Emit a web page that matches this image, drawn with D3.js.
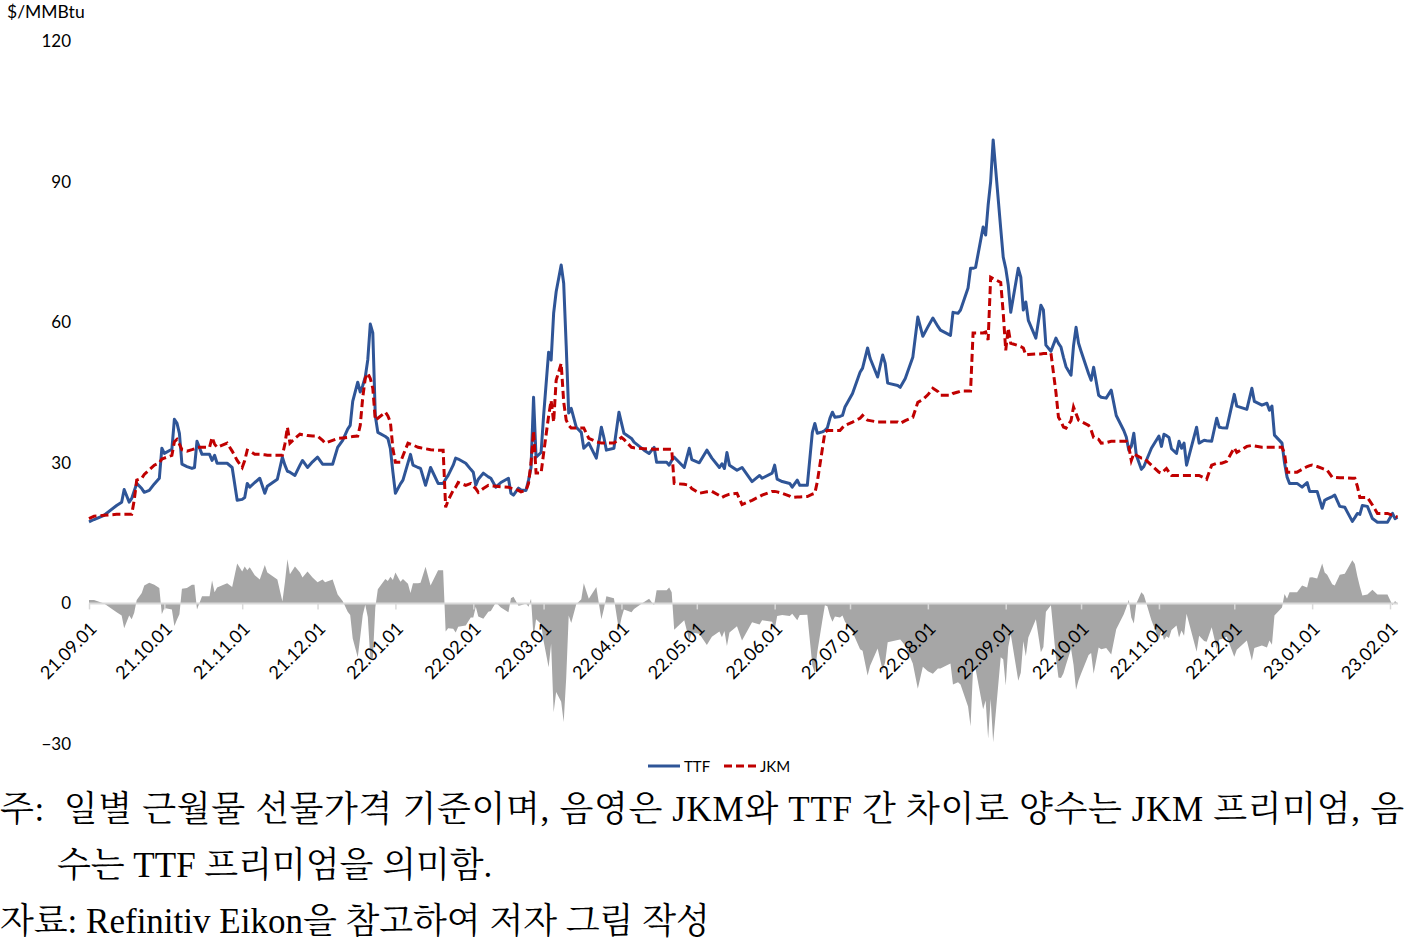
<!DOCTYPE html>
<html><head><meta charset="utf-8">
<script src="https://cdn.jsdelivr.net/npm/d3@7"></script>
<style>
html,body{margin:0;padding:0;background:#fff;}
svg{display:block;}
</style></head>
<body>
<svg id="chart" width="1407" height="940"></svg>
<script>
// ---------- DATA ----------
const dates = [
"2021-09-01","2021-09-03","2021-09-07","2021-09-12","2021-09-14","2021-09-15","2021-09-17","2021-09-18","2021-09-19","2021-09-20",
"2021-09-22","2021-09-23","2021-09-25","2021-09-27","2021-09-29","2021-09-30","2021-10-01","2021-10-04","2021-10-05","2021-10-06",
"2021-10-07","2021-10-08","2021-10-10","2021-10-12","2021-10-13","2021-10-14","2021-10-16","2021-10-19","2021-10-20","2021-10-21",
"2021-10-22","2021-10-26","2021-10-28","2021-10-30","2021-11-01","2021-11-02","2021-11-03","2021-11-04","2021-11-06","2021-11-08",
"2021-11-10","2021-11-11","2021-11-15","2021-11-17","2021-11-18","2021-11-19","2021-11-20","2021-11-22","2021-11-24","2021-11-25",
"2021-11-27","2021-11-29","2021-12-01","2021-12-03","2021-12-04","2021-12-07","2021-12-09","2021-12-11","2021-12-13","2021-12-14",
"2021-12-15","2021-12-17","2021-12-18","2021-12-19","2021-12-20","2021-12-21","2021-12-22","2021-12-23","2021-12-24","2021-12-25",
"2021-12-28","2021-12-29","2021-12-30","2021-12-31","2022-01-01","2022-01-03","2022-01-04","2022-01-06","2022-01-07","2022-01-08",
"2022-01-10","2022-01-11","2022-01-13","2022-01-15","2022-01-18","2022-01-20","2022-01-21","2022-01-22","2022-01-24","2022-01-25",
"2022-01-26","2022-01-29","2022-01-31","2022-02-01","2022-02-02","2022-02-03","2022-02-05","2022-02-07","2022-02-08","2022-02-10",
"2022-02-12","2022-02-15","2022-02-16","2022-02-17","2022-02-19","2022-02-20","2022-02-22","2022-02-23","2022-02-24","2022-02-25",
"2022-02-26","2022-02-28","2022-03-01","2022-03-03","2022-03-04","2022-03-05","2022-03-06","2022-03-08","2022-03-09","2022-03-10",
"2022-03-11","2022-03-12","2022-03-14","2022-03-16","2022-03-17","2022-03-19","2022-03-22","2022-03-24","2022-03-25","2022-03-26",
"2022-03-29","2022-03-31","2022-04-01","2022-04-02","2022-04-05","2022-04-06","2022-04-10","2022-04-12","2022-04-14","2022-04-15",
"2022-04-19","2022-04-20","2022-04-21","2022-04-22","2022-04-26","2022-04-28","2022-04-29","2022-05-02","2022-05-05","2022-05-07",
"2022-05-10","2022-05-11","2022-05-12","2022-05-13","2022-05-14","2022-05-17","2022-05-19","2022-05-23","2022-05-26","2022-05-27",
"2022-05-31","2022-06-01","2022-06-02","2022-06-04","2022-06-07","2022-06-08","2022-06-10","2022-06-11","2022-06-14","2022-06-16",
"2022-06-17","2022-06-18","2022-06-20","2022-06-21","2022-06-22","2022-06-23","2022-06-24","2022-06-25","2022-06-27","2022-06-28",
"2022-06-29","2022-07-02","2022-07-05","2022-07-06","2022-07-08","2022-07-09","2022-07-12","2022-07-14","2022-07-15","2022-07-16",
"2022-07-20","2022-07-21","2022-07-23","2022-07-26","2022-07-28","2022-07-30","2022-08-01","2022-08-03","2022-08-05","2022-08-06",
"2022-08-10","2022-08-11","2022-08-13","2022-08-14","2022-08-17","2022-08-18","2022-08-19","2022-08-20","2022-08-23","2022-08-24",
"2022-08-25","2022-08-26","2022-08-27","2022-08-30","2022-08-31","2022-09-01","2022-09-02","2022-09-03","2022-09-06","2022-09-07",
"2022-09-08","2022-09-09","2022-09-10","2022-09-13","2022-09-15","2022-09-16","2022-09-17","2022-09-19","2022-09-21","2022-09-22",
"2022-09-23","2022-09-24","2022-09-25","2022-09-27","2022-09-28","2022-09-29","2022-09-30","2022-10-01","2022-10-04","2022-10-05",
"2022-10-06","2022-10-08","2022-10-09","2022-10-11","2022-10-13","2022-10-15","2022-10-18","2022-10-19","2022-10-20","2022-10-21",
"2022-10-22","2022-10-23","2022-10-25","2022-10-26","2022-10-29","2022-11-01","2022-11-02","2022-11-03","2022-11-04","2022-11-05",
"2022-11-06","2022-11-08","2022-11-09","2022-11-10","2022-11-11","2022-11-12","2022-11-16","2022-11-17","2022-11-19","2022-11-20",
"2022-11-22","2022-11-24","2022-11-25","2022-11-26","2022-11-28","2022-12-01","2022-12-02","2022-12-06","2022-12-08","2022-12-09",
"2022-12-12","2022-12-14","2022-12-15","2022-12-16","2022-12-17","2022-12-20","2022-12-21","2022-12-22","2022-12-23","2022-12-26",
"2022-12-28","2022-12-30","2022-12-31","2023-01-01","2023-01-03","2023-01-05","2023-01-06","2023-01-07","2023-01-09","2023-01-10",
"2023-01-12","2023-01-14","2023-01-17","2023-01-18","2023-01-19","2023-01-20","2023-01-21","2023-01-23","2023-01-25","2023-01-27",
"2023-01-31","2023-02-02","2023-02-03","2023-02-04"
];
const ttf = [
17.4,17.9,18.8,20.9,21.6,24.3,21.6,22.4,24.0,25.6,
24.5,23.7,24.1,25.5,26.7,33.1,32.0,32.9,39.3,38.5,
36.3,29.7,29.2,28.8,29.0,34.6,31.8,31.8,30.5,31.6,
29.9,29.9,29.0,22.0,22.2,22.6,25.6,24.8,25.8,26.7,
23.5,25.0,26.5,31.2,29.5,28.2,28.0,27.3,29.5,30.5,
29.0,30.2,31.2,29.7,29.7,29.7,33.3,34.8,37.2,38.0,
43.1,47.2,45.1,46.5,48.3,52.0,59.6,57.7,40.0,36.5,
35.6,35.2,33.0,28.0,23.5,25.5,26.3,30.0,31.8,29.5,
29.0,28.8,25.2,29.0,25.6,25.6,26.5,27.3,29.5,31.0,
30.8,29.9,28.6,28.0,25.2,26.5,27.8,27.0,26.7,24.8,
25.8,26.7,23.5,23.1,24.6,24.2,24.1,26.3,29.0,44.0,
31.2,32.2,40.0,53.6,51.9,61.9,66.5,72.2,68.3,55.0,
40.6,41.6,37.6,36.5,33.1,34.2,31.0,37.6,35.4,32.7,
33.1,40.8,38.5,36.3,35.2,34.4,32.7,32.0,33.3,30.1,
30.1,29.5,30.5,31.2,29.0,33.1,30.7,30.0,32.7,31.0,
29.0,29.8,28.8,32.2,29.5,28.4,29.0,26.0,27.3,26.7,
27.8,29.5,26.5,26.0,25.6,24.8,26.3,25.2,25.2,36.5,
38.4,36.3,36.6,36.9,37.5,39.5,40.8,39.7,39.9,40.1,
41.9,44.8,49.3,50.2,54.5,52.3,48.3,53.0,51.2,47.0,
46.5,46.1,48.0,52.5,61.1,57.0,59.0,60.9,59.1,58.3,
57.2,62.1,61.9,62.6,67.3,71.5,71.5,71.7,80.3,78.6,
85.0,90.0,98.9,80.0,73.9,71.5,68.0,62.1,71.5,69.6,
62.6,64.3,60.4,56.6,63.6,62.6,55.1,53.8,56.6,55.5,
54.7,52.5,50.5,48.7,55.0,58.9,55.5,53.8,49.0,47.6,
50.4,44.4,44.0,43.8,45.5,40.1,36.9,35.5,32.7,33.5,
36.3,31.6,28.6,29.2,33.1,35.7,33.5,36.1,35.8,35.4,
33.0,32.0,34.6,33.1,34.2,29.5,37.6,34.2,34.8,34.7,
34.6,39.5,37.6,37.5,37.4,44.6,42.1,41.4,45.9,43.1,
42.3,42.7,41.2,42.1,35.9,34.2,30.0,27.0,25.6,25.6,
24.8,25.8,23.9,23.9,23.9,20.3,22.0,22.3,22.8,23.1,
20.7,20.5,17.5,18.3,19.2,19.0,20.9,20.7,18.1,17.3,
17.3,19.2,18.1,18.4
];
const jkm = [
18.1,18.6,18.8,19.0,19.0,19.0,19.0,19.0,22.0,26.3,
26.7,27.5,28.5,29.5,30.0,30.8,31.0,31.6,34.5,35.0,
34.0,32.8,32.5,32.8,33.0,33.3,33.3,33.3,35.4,34.0,
33.3,34.2,32.5,30.5,29.0,30.5,32.7,32.5,31.8,31.8,
31.7,31.6,31.6,31.6,34.0,37.6,34.2,35.2,36.1,36.0,
35.8,35.7,35.7,34.8,34.2,34.8,35.2,35.3,35.4,35.5,
35.6,35.7,38.0,44.0,48.0,49.1,48.0,45.9,39.1,39.5,
40.8,40.0,38.7,33.0,30.1,30.1,31.5,34.2,34.0,33.8,
33.3,33.2,33.0,32.8,32.7,32.7,20.5,22.0,24.1,24.8,
25.8,25.2,25.6,25.0,24.5,23.7,24.5,25.2,25.1,25.0,
24.9,24.8,24.6,24.5,24.1,23.8,24.1,25.6,30.0,36.8,
27.8,27.8,32.0,40.0,43.3,38.7,47.6,51.2,43.0,39.1,
38.0,37.4,37.4,37.4,37.4,35.2,34.5,34.2,34.2,34.2,
34.2,35.0,35.4,35.0,33.3,33.2,33.0,33.0,32.9,32.9,
32.9,32.9,32.9,25.6,25.4,25.2,24.5,23.5,23.8,23.9,
23.0,22.6,22.9,23.1,23.3,23.5,21.1,22.0,22.8,23.1,
23.9,23.9,23.8,23.5,22.9,22.6,22.7,22.7,22.8,23.3,
23.5,26.0,33.0,36.5,36.9,36.9,36.9,36.9,36.9,37.5,
38.0,38.7,39.5,40.1,39.1,39.0,38.7,38.7,38.7,38.7,
38.7,38.4,39.0,39.7,42.9,43.5,44.5,45.9,45.2,44.4,
44.4,44.8,45.1,45.3,45.3,45.3,57.7,57.7,57.7,57.9,
56.2,69.6,69.3,68.5,62.0,54.0,58.7,55.5,55.0,54.8,
54.5,53.0,53.1,53.2,53.2,53.3,53.3,53.4,45.0,39.7,
38.8,37.6,37.4,39.0,41.9,40.5,39.1,38.8,38.0,37.0,
35.4,35.0,34.2,34.3,34.6,34.6,34.6,34.6,33.5,30.5,
32.0,31.6,31.0,31.0,29.5,28.0,27.8,28.3,28.8,28.0,
27.3,27.3,27.3,27.3,27.3,27.3,27.3,27.3,26.8,26.5,
29.5,29.9,29.9,29.9,30.3,33.2,32.2,33.5,33.7,33.6,
33.3,33.3,33.3,33.3,33.3,33.3,32.0,28.0,28.0,28.0,
28.6,29.2,29.4,29.5,29.2,28.8,28.6,28.4,26.9,26.9,
26.8,26.8,26.7,26.7,25.0,22.6,22.6,22.6,21.0,19.2,
19.2,18.8,18.6,18.4
];
const yTicks = [-30, 0, 30, 60, 90, 120];
const xTickLabels = ["21.09.01","21.10.01","21.11.01","21.12.01","22.01.01","22.02.01","22.03.01","22.04.01","22.05.01",
  "22.06.01","22.07.01","22.08.01","22.09.01","22.10.01","22.11.01","22.12.01","23.01.01","23.02.01"];
const seriesNames = ["TTF", "JKM"];
const unitLabel = "$/MMBtu";
const noteLines = [
  "주:  일별 근월물 선물가격 기준이며, 음영은 JKM와 TTF 간 차이로 양수는 JKM 프리미엄, 음",
  "수는 TTF 프리미엄을 의미함.",
  "자료: Refinitiv Eikon을 참고하여 저자 그림 작성"
];

// ---------- CHART ----------
const parse = d3.utcParse("%Y-%m-%d");
const parseTick = d3.utcParse("%y.%m.%d");
const rows = dates.map((d, i) => ({date: parse(d), ttf: ttf[i], jkm: jkm[i], spread: jkm[i] - ttf[i]}));
const tickDates = xTickLabels.map(parseTick);

const svg = d3.select("#chart");
const x = d3.scaleUtc().domain([tickDates[0], tickDates[tickDates.length - 1]]).range([89, 1390]);
const y = d3.scaleLinear().domain([-30, 120]).range([744, 41]);

const axisFont = "Lato, 'Open Sans', sans-serif";

// spread area
svg.append("path")
  .datum(rows)
  .attr("fill", "#a6a6a6")
  .attr("d", d3.area().x(d => x(d.date)).y0(y(0)).y1(d => y(d.spread)));

// zero axis line with month ticks
const xAxis = d3.axisBottom(x).tickValues(tickDates).tickSize(6).tickFormat(d3.utcFormat("%y.%m.%d"));
const gx = svg.append("g").attr("transform", `translate(0,${y(0)})`).call(xAxis);
gx.select(".domain").attr("d", `M${x(tickDates[0])},0H1398`).attr("stroke", "#d9d9d9").attr("stroke-width", 2);
gx.selectAll(".tick line").attr("stroke", "#d9d9d9").attr("stroke-width", 1.5);
gx.selectAll(".tick text")
  .attr("font-family", axisFont).attr("font-size", 18).attr("fill", "#000")
  .attr("text-anchor", "end")
  .attr("transform", "translate(4,22) rotate(-45)")
  .attr("y", 0).attr("dy", "0.35em").attr("x", 0);

// y axis labels (no line)
const yAxis = d3.axisLeft(y).tickValues(yTicks).tickSize(0).tickPadding(0);
const gy = svg.append("g").attr("transform", "translate(71,0)").call(yAxis);
gy.select(".domain").remove();
gy.selectAll(".tick text").attr("font-family", axisFont).attr("font-size", 17).attr("fill", "#000");

// unit label
svg.append("text").attr("x", 7).attr("y", 18).attr("font-family", axisFont).attr("font-size", 17.5)
  .attr("fill", "#000").text(unitLabel);

// lines
const colors = {TTF: "#2f5597", JKM: "#c00000"};
svg.append("path").datum(rows).attr("fill", "none").attr("stroke", colors.TTF).attr("stroke-width", 3)
  .attr("stroke-linejoin", "round")
  .attr("d", d3.line().x(d => x(d.date)).y(d => y(d.ttf)));
svg.append("path").datum(rows).attr("fill", "none").attr("stroke", colors.JKM).attr("stroke-width", 3)
  .attr("stroke-dasharray", "8,4")
  .attr("d", d3.line().x(d => x(d.date)).y(d => y(d.jkm)));

// legend
const legend = svg.append("g").attr("font-family", axisFont).attr("font-size", 15).attr("fill", "#000");
const legItems = [{name: seriesNames[0], x0: 648, dash: null}, {name: seriesNames[1], x0: 724, dash: "8,4"}];
legItems.forEach(it => {
  legend.append("line").attr("x1", it.x0).attr("x2", it.x0 + 32).attr("y1", 766).attr("y2", 766)
    .attr("stroke", colors[it.name]).attr("stroke-width", 3).attr("stroke-dasharray", it.dash);
  legend.append("text").attr("x", it.x0 + 36).attr("y", 771.5).text(it.name);
});

// notes
const noteFont = "'Liberation Serif', 'Noto Serif CJK KR', 'Noto Sans CJK KR', serif";
const notes = svg.append("g").attr("font-family", noteFont).attr("font-size", 35).attr("fill", "#000");
notes.append("text").attr("x", 0).attr("y", 821).attr("textLength", 1404).attr("lengthAdjust", "spacing")
  .style("white-space", "pre").text(noteLines[0]);
notes.append("text").attr("x", 57).attr("y", 877).text(noteLines[1]);
notes.append("text").attr("x", 0).attr("y", 933).text(noteLines[2]);
</script>
</body></html>
